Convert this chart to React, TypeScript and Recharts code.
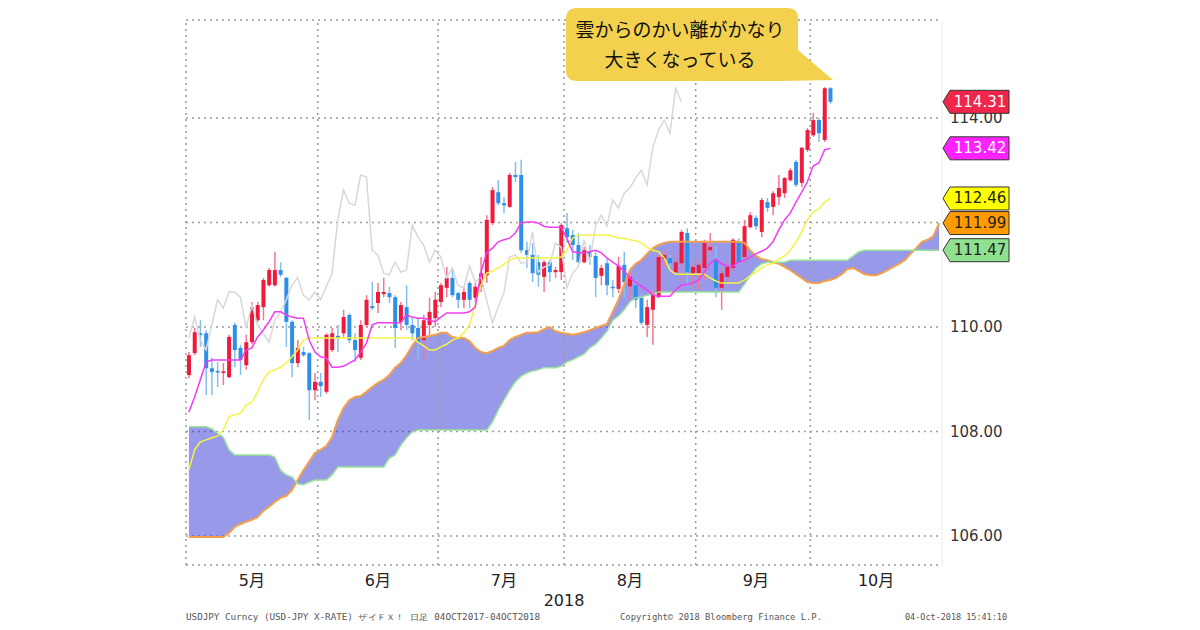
import {
  ComposedChart,
  Area,
  Bar,
  Line,
  XAxis,
  YAxis,
  CartesianGrid,
  ReferenceLine,
} from "recharts";

// USD/JPY daily, May 2018 - Oct 2018
const opens = [
  109.08, 109.5, 109.88, 109.88, 109.21, 109.16, 109.12, 109.04, 110.04, 109.6,
  109.27, 109.71, 110.13, 110.38, 110.8, 110.8, 111.09, 110.94, 110.1, 109.31,
  109.52, 109.5, 108.79, 108.95, 108.76, 109.56, 109.83, 109.88, 110.23, 109.75,
  109.41, 110.04, 110.4, 110.46, 110.63, 110.65, 110.57, 110.1, 110.38, 110.04,
  109.98, 109.75, 110.04, 110.17, 110.48, 110.75, 110.94, 110.65, 110.52, 110.84,
  110.56, 110.77, 110.99, 111.99, 112.58, 112.37, 112.3, 112.91, 112.91, 111.47,
  111.38, 111.24, 110.96, 111.24, 111.05, 111.05, 111.89, 111.76, 111.57, 111.24,
  111.44, 111.36, 110.98, 111.22, 110.77, 110.73, 111.19, 110.78, 110.8, 110.56,
  110.04, 110.33, 110.57, 111.3, 111.32, 111.05, 111.22, 111.8, 111.03, 111.03,
  111.13, 111.47, 111.28, 110.75, 110.96, 111.13, 111.63, 111.34, 111.91, 112.09,
  111.82, 112.39, 112.3, 112.49, 112.56, 112.81, 113.16, 112.76, 113.39, 113.67,
  113.96, 113.58, 114.57,
];
const highs = [
  109.52, 109.98, 110.13, 109.94, 109.41, 109.33, 109.31, 109.85, 110.08, 109.66,
  109.85, 110.48, 110.48, 110.94, 111.13, 111.44, 111.24, 110.96, 110.13, 109.75,
  109.62, 109.52, 109.12, 109.12, 109.88, 109.98, 110.04, 110.33, 110.27, 109.88,
  110.13, 110.61, 110.86, 110.84, 110.94, 110.77, 110.61, 110.48, 110.8, 110.19,
  110.19, 110.23, 110.56, 110.67, 110.84, 111.15, 111.13, 110.67, 110.75, 110.88,
  110.84, 111.34, 112.14, 112.68, 112.81, 112.49, 112.95, 113.16, 113.2, 111.63,
  111.61, 111.38, 111.28, 111.28, 111.15, 111.99, 112.18, 111.86, 111.8, 111.53,
  111.57, 111.44, 111.19, 111.32, 110.9, 111.34, 111.44, 111.05, 110.9, 110.65,
  110.52, 110.71, 111.38, 111.45, 111.38, 111.42, 111.86, 111.89, 111.22, 111.28,
  111.67, 111.8, 111.53, 111.13, 111.28, 111.7, 111.7, 112.05, 112.2, 112.14,
  112.47, 112.47, 112.6, 112.91, 112.87, 113.04, 113.2, 113.44, 113.81, 114.1,
  114.0, 114.59, 114.59,
];
const lows = [
  109.02, 109.46, 109.62, 108.7, 108.7, 108.85, 108.89, 109.02, 109.23, 109.08,
  109.18, 109.67, 110.1, 110.13, 110.77, 110.77, 110.96, 109.62, 109.04, 109.23,
  109.43, 108.22, 108.6, 108.66, 108.72, 109.52, 109.52, 109.81, 109.69, 109.33,
  109.37, 110.0, 110.33, 110.27, 110.57, 110.46, 109.6, 109.94, 109.94, 109.75,
  109.37, 109.37, 109.85, 110.0, 110.38, 110.57, 110.57, 110.36, 110.36, 110.36,
  110.48, 110.67, 110.84, 111.95, 112.33, 112.18, 112.28, 112.77, 111.42, 111.13,
  110.86, 110.77, 110.67, 110.86, 110.94, 110.9, 111.61, 111.28, 111.22, 111.22,
  111.19, 110.57, 110.8, 110.61, 110.57, 110.65, 110.56, 110.52, 110.36, 110.04,
  109.81, 109.66, 110.55, 111.15, 111.13, 111.0, 110.86, 110.8, 110.77, 110.71,
  110.9, 111.42, 110.57, 110.33, 110.86, 111.05, 111.19, 111.24, 111.89, 111.86,
  111.72, 112.2, 112.14, 112.33, 112.47, 112.78, 112.68, 112.68, 113.35, 113.64,
  113.54, 113.54, 114.27,
];
const closes = [
  109.46, 109.9, 109.85, 109.21, 109.14, 109.13, 109.15, 109.81, 109.56, 109.37,
  109.71, 110.38, 110.42, 110.9, 111.09, 111.09, 111.0, 110.1, 109.31, 109.6,
  109.46, 108.79, 108.95, 108.87, 109.85, 109.88, 109.79, 110.19, 109.75, 109.56,
  110.04, 110.52, 110.36, 110.67, 110.67, 110.57, 109.98, 110.42, 110.04, 109.88,
  109.71, 110.13, 110.29, 110.52, 110.8, 110.94, 110.61, 110.52, 110.67, 110.52,
  110.77, 111.03, 112.05, 112.62, 112.37, 112.33, 112.91, 112.87, 111.47, 111.38,
  111.03, 111.0, 111.24, 111.05, 111.09, 111.95, 111.72, 111.57, 111.24, 111.47,
  111.34, 110.94, 111.13, 110.8, 110.75, 111.17, 110.86, 110.96, 110.52, 110.08,
  110.38, 110.65, 111.34, 111.38, 111.22, 111.24, 111.82, 111.05, 111.15, 111.19,
  111.61, 111.53, 110.75, 111.03, 111.15, 111.67, 111.24, 111.93, 112.14, 111.93,
  112.43, 112.28, 112.56, 112.66, 112.85, 113.0, 112.72, 113.43, 113.77, 113.96,
  113.71, 114.57, 114.31,
];

// 転換線 (magenta)
const tenkan = [
  108.37, 108.66, 108.99, 109.33, 109.37, 109.37, 109.37, 109.37, 109.37, 109.37,
  109.56, 109.6, 109.81, 109.94, 110.1, 110.29, 110.29, 110.23, 110.19, 110.17,
  110.17, 109.75, 109.52, 109.43, 109.41, 109.23, 109.23, 109.25, 109.31, 109.37,
  109.52, 109.69, 110.04, 110.08, 110.08, 110.08, 110.08, 110.08, 110.23, 110.19,
  110.17, 110.17, 110.13, 110.1, 110.19, 110.27, 110.27, 110.27, 110.27, 110.29,
  110.38, 111.05, 111.42, 111.51, 111.63, 111.67, 111.7, 111.8, 111.99, 112.01,
  112.01, 111.99, 111.93, 111.91, 111.91, 111.91, 111.7, 111.44, 111.42, 111.42,
  111.44, 111.47, 111.42, 111.32, 111.24, 111.17, 111.07, 110.94, 110.86, 110.78,
  110.71, 110.61, 110.59, 110.59, 110.59, 110.71, 110.8, 110.82, 110.84, 110.9,
  111.05, 111.22, 111.3, 111.21, 111.17, 111.17, 111.24, 111.28, 111.34, 111.4,
  111.45, 111.51, 111.63, 111.86, 112.05, 112.18, 112.39, 112.58, 112.78, 113.08,
  113.14, 113.39, 113.42,
];

// 基準線 (yellow)
const kijun = [
  107.26, 107.65, 107.8, 107.84, 107.88, 107.91, 108.03, 108.28, 108.32, 108.35,
  108.51, 108.56, 108.76, 108.99, 109.14, 109.18, 109.23, 109.31, 109.43, 109.56,
  109.75, 109.79, 109.79, 109.79, 109.79, 109.79, 109.79, 109.79, 109.79, 109.79,
  109.79, 109.79, 109.79, 109.79, 109.79, 109.79, 109.79, 109.79, 109.79, 109.79,
  109.71, 109.64, 109.56, 109.56, 109.62, 109.67, 109.75, 109.79, 109.89, 110.04,
  110.42, 110.8, 111.03, 111.07, 111.13, 111.2, 111.28, 111.32, 111.32, 111.32,
  111.32, 111.32, 111.32, 111.32, 111.32, 111.34, 111.47, 111.7, 111.76, 111.76,
  111.76, 111.76, 111.76, 111.76, 111.74, 111.7, 111.7, 111.67, 111.65, 111.61,
  111.53, 111.47, 111.44, 111.32, 111.09, 111.01, 111.01, 111.01, 111.01, 111.01,
  111.01, 110.94, 110.88, 110.84, 110.84, 110.84, 110.84, 110.9, 110.98, 111.05,
  111.13, 111.19, 111.22, 111.3, 111.36, 111.47, 111.63, 111.82, 112.05, 112.2,
  112.26, 112.39, 112.46,
];

// 遅行スパン (gray)
const chikou = [
  109.79, 110.19, 109.75, 109.56, 110.04, 110.52, 110.36, 110.67, 110.67, 110.57,
  109.98, 110.42, 110.04, 109.88, 109.71, 110.13, 110.29, 110.52, 110.8, 110.94,
  110.61, 110.52, 110.67, 110.52, 110.77, 111.03, 112.05, 112.62, 112.37, 112.33,
  112.91, 112.87, 111.47, 111.38, 111.03, 111.0, 111.24, 111.05, 111.09, 111.95,
  111.72, 111.57, 111.24, 111.47, 111.34, 110.94, 111.13, 110.8, 110.75, 111.17,
  110.86, 110.96, 110.52, 110.08, 110.38, 110.65, 111.34, 111.38, 111.22, 111.24,
  111.82, 111.05, 111.15, 111.19, 111.61, 111.53, 110.75, 111.03, 111.15, 111.67,
  111.24, 111.93, 112.14, 111.93, 112.43, 112.28, 112.56, 112.66, 112.85, 113.0,
  112.72, 113.43, 113.77, 113.96, 113.71, 114.57, 114.31,
];

// 先行スパン1 (orange)
const spanA = [
  105.98, 105.98, 105.98, 105.98, 105.98, 105.98, 105.98, 106.06, 106.17, 106.23,
  106.27, 106.31, 106.36, 106.48, 106.56, 106.65, 106.73, 106.77, 106.88, 107.07,
  107.26, 107.42, 107.59, 107.65, 107.72, 107.89, 108.22, 108.45, 108.6, 108.66,
  108.68, 108.76, 108.85, 108.93, 108.99, 109.08, 109.22, 109.31, 109.46, 109.64,
  109.79, 109.81, 109.83, 109.85, 109.89, 109.89, 109.81, 109.79, 109.79, 109.73,
  109.6, 109.52, 109.5, 109.54, 109.6, 109.64, 109.75, 109.81, 109.85, 109.89,
  109.89, 109.9, 109.96, 110.0, 109.92, 109.89, 109.87, 109.85, 109.87, 109.9,
  109.94, 109.98, 110.02, 110.06, 110.29, 110.52, 110.8, 111.09, 111.21, 111.28,
  111.4, 111.51, 111.57, 111.61, 111.63, 111.63, 111.63, 111.63, 111.63, 111.63,
  111.63, 111.63, 111.63, 111.63, 111.63, 111.63, 111.63, 111.61, 111.47, 111.36,
  111.3, 111.28, 111.24, 111.21, 111.15, 111.09, 111.01, 110.94, 110.86, 110.84,
  110.84, 110.88, 110.9, 110.94, 111.01, 111.11, 111.13, 111.07, 111.01, 110.99,
  110.99, 111.03, 111.09, 111.15, 111.21, 111.28, 111.4, 111.51, 111.63, 111.67,
  111.74, 111.99,
];

// 先行スパン2 (green)
const spanB = [
  108.09, 108.09, 108.09, 108.09, 108.05, 107.97, 107.89, 107.65, 107.55, 107.55,
  107.55, 107.55, 107.55, 107.55, 107.55, 107.51, 107.26, 107.17, 107.13, 107.0,
  106.98, 107.03, 107.07, 107.07, 107.07, 107.17, 107.32, 107.32, 107.32, 107.32,
  107.32, 107.32, 107.32, 107.32, 107.32, 107.49, 107.55, 107.74, 107.88, 107.99,
  108.03, 108.03, 108.03, 108.03, 108.03, 108.03, 108.03, 108.03, 108.03, 108.03,
  108.03, 108.03, 108.03, 108.18, 108.41, 108.6, 108.79, 108.95, 109.06, 109.12,
  109.16, 109.18, 109.22, 109.22, 109.22, 109.25, 109.33, 109.37, 109.43, 109.48,
  109.6, 109.67, 109.79, 109.92, 110.13, 110.21, 110.33, 110.48, 110.56, 110.57,
  110.61, 110.63, 110.67, 110.67, 110.67, 110.67, 110.67, 110.67, 110.67, 110.67,
  110.67, 110.67, 110.67, 110.67, 110.67, 110.67, 110.67, 110.82, 110.98, 111.13,
  111.21, 111.24, 111.24, 111.24, 111.24, 111.28, 111.28, 111.28, 111.28, 111.28,
  111.28, 111.28, 111.28, 111.28, 111.28, 111.28, 111.36, 111.44, 111.47, 111.47,
  111.47, 111.47, 111.47, 111.47, 111.47, 111.47, 111.47, 111.47, 111.47, 111.47,
  111.47, 111.47,
];

const monthStarts = [0, 23, 44, 66, 89, 109];
const monthMid = [11, 33, 55, 77, 99, 120];
const monthNames = ["5月", "6月", "7月", "8月", "9月", "10月"];
const yTicks = [106, 108, 110, 112, 114];
const lastValues = [114.31, 113.42, 112.46, 111.99, 111.47];
const badgeStyles = [
  { fill: "#f0264a", color: "#ffffff" },
  { fill: "#ff22ff", color: "#ffffff" },
  { fill: "#ffff00", color: "#222222" },
  { fill: "#ff9a00", color: "#222222" },
  { fill: "#8fe08f", color: "#222222" },
];

const rows = spanA.map((a, i) => ({
  i,
  o: opens[i],
  h: highs[i],
  l: lows[i],
  c: closes[i],
  tenkan: tenkan[i],
  kijun: kijun[i],
  chikou: chikou[i],
  spanA: a,
  spanB: spanB[i],
}));

const NUM_FONT = '"DejaVu Sans", "Noto Sans CJK JP", sans-serif';

function Candle(props: any) {
  const { x, y, width, height, payload } = props;
  if (!payload || payload.h == null) return null;
  const top = Math.min(y, y + height);
  const span = Math.abs(height);
  const range = payload.h - payload.l;
  const toY = (v: number) =>
    range > 0 ? top + ((payload.h - v) / range) * span : top;
  const up = payload.c >= payload.o;
  const body = up ? "#f01a3c" : "#2e8fe8";
  const wick = up ? "#f5768e" : "#84bdf0";
  const cx = x + width / 2;
  const bTop = toY(Math.max(payload.o, payload.c));
  const bBot = toY(Math.min(payload.o, payload.c));
  return (
    <g>
      <line x1={cx} x2={cx} y1={top} y2={top + span} stroke={wick} strokeWidth={1.5} />
      <rect
        x={cx - 2}
        y={bTop}
        width={4}
        height={Math.max(1.5, bBot - bTop)}
        fill={body}
      />
    </g>
  );
}

function MonthTick(props: any) {
  const { x, y, payload } = props;
  const idx = monthMid.indexOf(payload.value);
  return (
    <text
      x={x}
      y={y + 13}
      textAnchor="middle"
      fontSize={16}
      fill="#222"
      fontFamily={NUM_FONT}
    >
      {monthNames[idx]}
    </text>
  );
}

function PriceTick(props: any) {
  const { x, y, payload } = props;
  // the 112.00 label sits under the price badges
  const hidden = lastValues.some((v) => Math.abs(v - payload.value) < 0.03);
  if (hidden) return <g />;
  return (
    <text
      x={x}
      y={y}
      dy={5}
      textAnchor="start"
      fontSize={15}
      fill="#333"
      fontFamily={NUM_FONT}
    >
      {payload.value.toFixed(2)}
    </text>
  );
}

const badge = (value: number, fill: string, color: string) => (props: any) => {
  const vb = props.viewBox || {};
  const x0 = (vb.x ?? 0) + (vb.width ?? 0) + 1;
  const yc = vb.y ?? 0;
  const h = 11.5;
  const pts = `${x0},${yc} ${x0 + 7},${yc - h} ${x0 + 66},${yc - h} ${x0 + 66},${yc + h} ${x0 + 7},${yc + h}`;
  return (
    <g>
      <polygon points={pts} fill={fill} stroke="#333" strokeWidth={1} />
      <text
        x={x0 + 37}
        y={yc}
        dy={5}
        textAnchor="middle"
        fontSize={15}
        fill={color}
        fontFamily={NUM_FONT}
      >
        {value.toFixed(2)}
      </text>
    </g>
  );
};

export default function App() {
  return (
    <div
      style={{
        position: "absolute",
        left: 0,
        top: 0,
        width: 1200,
        height: 630,
        background: "#fff",
        overflow: "hidden",
      }}
    >
      <ComposedChart
        width={1200}
        height={630}
        data={rows}
        margin={{ top: 20, right: 188, bottom: 15, left: 186 }}
      >
        <CartesianGrid
          vertical={false}
          stroke="#9a9a9a"
          strokeWidth={1.5}
          strokeDasharray="2 4"
        />
        <XAxis
          dataKey="i"
          ticks={monthMid}
          interval={0}
          tick={<MonthTick />}
          tickLine={false}
          axisLine={false}
          height={50}
          label={(p: any) => {
            const vb = p.viewBox || {};
            return (
              <text
                x={(vb.x ?? 0) + (vb.width ?? 0) / 2}
                y={(vb.y ?? 0) + 41}
                textAnchor="middle"
                fontSize={16}
                fill="#222"
                fontFamily={NUM_FONT}
              >
                2018
              </text>
            );
          }}
        />
        <YAxis
          orientation="right"
          type="number"
          domain={[105.445, 115.876]}
          allowDataOverflow
          ticks={yTicks}
          interval={0}
          tick={<PriceTick />}
          tickLine={false}
          tickSize={6}
          tickMargin={2}
          axisLine={{ stroke: "#ececec" }}
          width={70}
        />
        {monthStarts.map((m) => (
          <ReferenceLine
            key={`m${m}`}
            x={m}
            position="start"
            stroke="#9a9a9a"
            strokeWidth={1.5}
            strokeDasharray="2 4"
          />
        ))}
        <Area
          dataKey={(d: any) => [d.spanA, d.spanB]}
          type="linear"
          stroke="none"
          fill="#3434d6"
          fillOpacity={0.5}
          isAnimationActive={false}
        />
        <Line
          dataKey="spanA"
          type="linear"
          stroke="#f2a04c"
          strokeWidth={2}
          dot={false}
          activeDot={false}
          isAnimationActive={false}
        />
        <Line
          dataKey="spanB"
          type="linear"
          stroke="#98e298"
          strokeWidth={1.5}
          dot={false}
          activeDot={false}
          isAnimationActive={false}
        />
        <Line
          dataKey="chikou"
          type="linear"
          stroke="#d8d8d8"
          strokeWidth={1.5}
          dot={false}
          activeDot={false}
          isAnimationActive={false}
        />
        <Bar
          dataKey={(d: any) => (d.h == null ? null : [d.l, d.h])}
          barSize={4}
          shape={<Candle />}
          isAnimationActive={false}
        />
        <Line
          dataKey="kijun"
          type="linear"
          stroke="#f4f442"
          strokeWidth={1.5}
          dot={false}
          activeDot={false}
          isAnimationActive={false}
        />
        <Line
          dataKey="tenkan"
          type="linear"
          stroke="#f23cf2"
          strokeWidth={1.5}
          dot={false}
          activeDot={false}
          isAnimationActive={false}
        />
        {lastValues.map((v, k) => (
          <ReferenceLine
            key={`b${k}`}
            y={v}
            stroke="none"
            zIndex={3000}
            label={badge(v, badgeStyles[k].fill, badgeStyles[k].color)}
          />
        ))}
      </ComposedChart>

      <svg
        width={1200}
        height={630}
        style={{ position: "absolute", left: 0, top: 0, pointerEvents: "none" }}
      >
        <path
          d="M577,8 H787 Q798,8 798,19 V50 L833,80 L784,81 H577 Q566,81 566,70 V19 Q566,8 577,8 Z"
          fill="#f3d14e"
        />
        <text
          x={680}
          y={37}
          textAnchor="middle"
          fontSize={19}
          fill="#111"
          fontFamily='"Noto Sans CJK JP", sans-serif'
        >
          雲からのかい離がかなり
        </text>
        <text
          x={680}
          y={67}
          textAnchor="middle"
          fontSize={19}
          fill="#111"
          fontFamily='"Noto Sans CJK JP", sans-serif'
        >
          大きくなっている
        </text>
        <g fontFamily='"DejaVu Sans Mono", monospace' fontSize={8} fill="#555">
          <text x={186} y={620} textLength={354} lengthAdjust="spacingAndGlyphs">
            USDJPY Curncy (USD-JPY X-RATE) ザイＦＸ！  日足 04OCT2017-04OCT2018
          </text>
          <text x={620} y={620} textLength={202} lengthAdjust="spacingAndGlyphs">
            Copyright© 2018 Bloomberg Finance L.P.
          </text>
          <text x={905} y={620} textLength={102} lengthAdjust="spacingAndGlyphs">
            04-Oct-2018 15:41:10
          </text>
        </g>
      </svg>
    </div>
  );
}
